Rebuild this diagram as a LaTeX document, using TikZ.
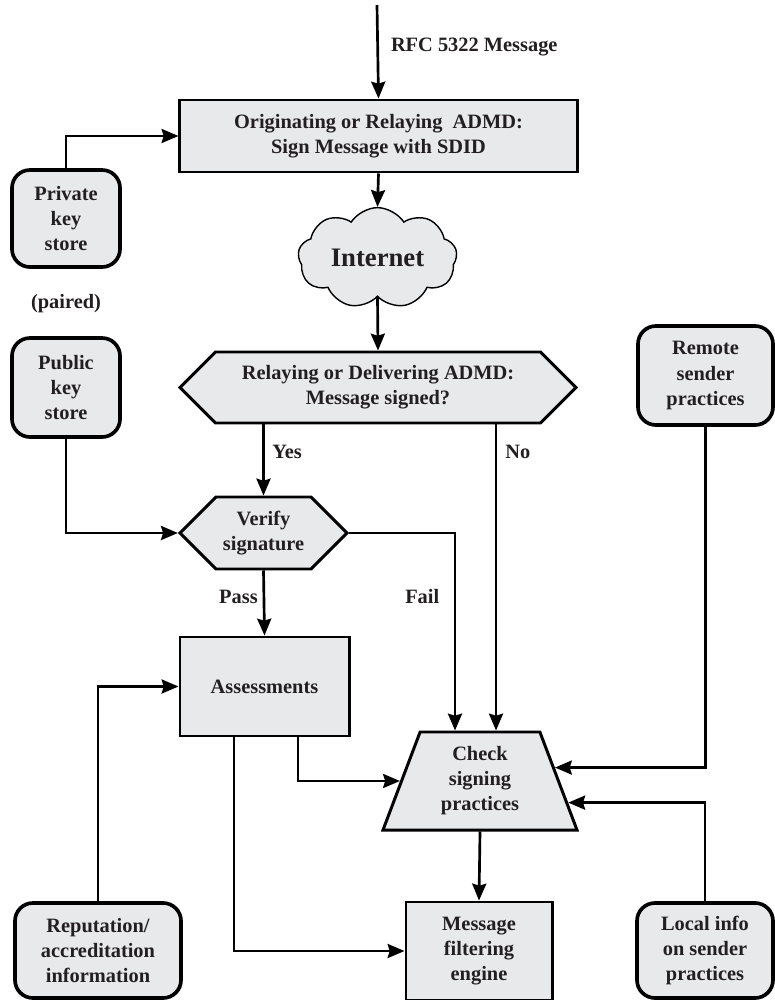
\documentclass[tikz,border=0pt]{standalone}
\usepackage{fontspec}
\setmainfont{Liberation Serif}
\usepackage{tikz}
\usetikzlibrary{calc,arrows.meta,positioning,shapes.geometric,shapes.symbols}
\definecolor{dkimFill}{RGB}{232,233,235}
\definecolor{dkimText}{RGB}{35,31,32}

\tikzset{
  base/.style={draw=black, fill=dkimFill, text=dkimText, font=\fontsize{14.5}{17.8}\selectfont\bfseries, align=center, inner sep=2pt},
  procbox/.style={base, rectangle, line width=2.1pt},
  storebox/.style={base, rectangle, rounded corners=0.45cm, line width=2.6pt},
  decision/.style={base, signal, signal to=west and east, signal pointer angle=90, line width=2.1pt},
  netcloud/.style={base, cloud, cloud puffs=9, cloud puff arc=115, aspect=1.77, line width=1pt, font=\fontsize{19}{22}\selectfont\bfseries},
  checktrap/.style={base, trapezium, trapezium left angle=63.4, trapezium right angle=63.4, trapezium stretches body, line width=2.1pt},
  flow/.style={line width=1.9pt, -{Stealth[length=12pt,width=10pt,inset=1.5pt]}},
  lbl/.style={text=dkimText, font=\fontsize{14.5}{17.8}\selectfont\bfseries, inner sep=0pt},
}

\begin{document}
\begin{tikzpicture}[x=0.025cm, y=-0.025cm]
    \useasboundingbox (0,0) rectangle (775,1000);

    % signing side
    \coordinate (in) at (377,5);
    \node[procbox, minimum width=9.925cm, minimum height=1.8cm] (orig) at (378.5,136)
        {Originating or Relaying~~ADMD:\\Sign Message with SDID};
    \node[storebox, minimum width=2.7cm, minimum height=2.425cm] (pks) at (66,218.5)
        {Private\\key\\store};
    \node[lbl] (paired) at (66,304) {(paired)};
    \node[netcloud, minimum width=3.975cm, minimum height=2.25cm] (net) at (377.5,258) {Internet};

    % verifying side
    \node[decision, minimum width=9.9cm, minimum height=1.775cm] (hex) at (378,387.5)
        {Relaying or Delivering ADMD:\\Message signed?};
    \node[storebox, minimum width=2.7cm, minimum height=2.475cm] (pub) at (66,387.5)
        {Public\\key\\store};
    \node[storebox, minimum width=3.375cm, minimum height=2.475cm] (rem) at (705.5,375.5)
        {Remote\\sender\\practices};
    \node[decision, minimum width=4.175cm, minimum height=1.8cm] (ver) at (263.5,533)
        {Verify\\signature};
    \node[procbox, minimum width=4.225cm, minimum height=2.475cm] (asm) at (264.5,686.5) {Assessments};
    \node[checktrap, minimum width=4.85cm, minimum height=2.45cm] (chk) at (480,781)
        {Check\\signing\\practices};
    \node[procbox, minimum width=3.65cm, minimum height=2.45cm] (flt) at (479,951)
        {Message\\filtering\\engine};
    \node[storebox, minimum width=4.15cm, minimum height=2.375cm] (rep) at (98,950.5)
        {Reputation/\\accreditation\\information};
    \node[storebox, minimum width=3.4cm, minimum height=2.375cm] (loc) at (705,950.5)
        {Local info\\on sender\\practices};

    % points on the right side of the check
    \coordinate (remIn) at ($(chk.bottom right corner)!0.633!(chk.top right corner)$);
    \coordinate (locIn) at ($(chk.bottom right corner)!0.286!(chk.top right corner)$);

    \draw[flow] (in) -- (orig.north) node[lbl, pos=0.45, anchor=west, xshift=0.3cm] (rfc) {RFC 5322 Message};
    \draw[flow] (pks.north) |- (orig.west);
    \draw[flow] (orig.south) -- (net.north);
    \draw[flow] (net.south) -- (hex.north);

    \draw[flow] (ver |- hex.south) -- (ver.north);
    \node[lbl, anchor=west] (yes) at (272,452) {Yes};
    \draw[flow] ([xshift=0.4cm]chk.north |- hex.south) -- ([xshift=0.4cm]chk.north);
    \node[lbl, anchor=west] (no) at (505,452) {No};
    \draw[flow] (pub.south) |- (ver.west);
    \draw[flow] (ver.east) -| ([xshift=-0.625cm]chk.north);
    \node[lbl, anchor=west] (fail) at (405,597) {Fail};
    \draw[flow] (ver.south) -- (asm.north);
    \node[lbl, anchor=east] (pass) at (258,597) {Pass};

    \draw[flow] (rep.north) |- (asm.west);
    \draw[flow] ([xshift=0.84cm]asm.south) |- (chk.west);
    \draw[flow] ([xshift=-0.76cm]asm.south) |- (flt.west);
    \draw[flow] (rem.south) |- (remIn);
    \draw[flow] (loc.north) |- (locIn);
    \draw[flow] (chk.south) -- (flt.north);
\end{tikzpicture}
\end{document}
